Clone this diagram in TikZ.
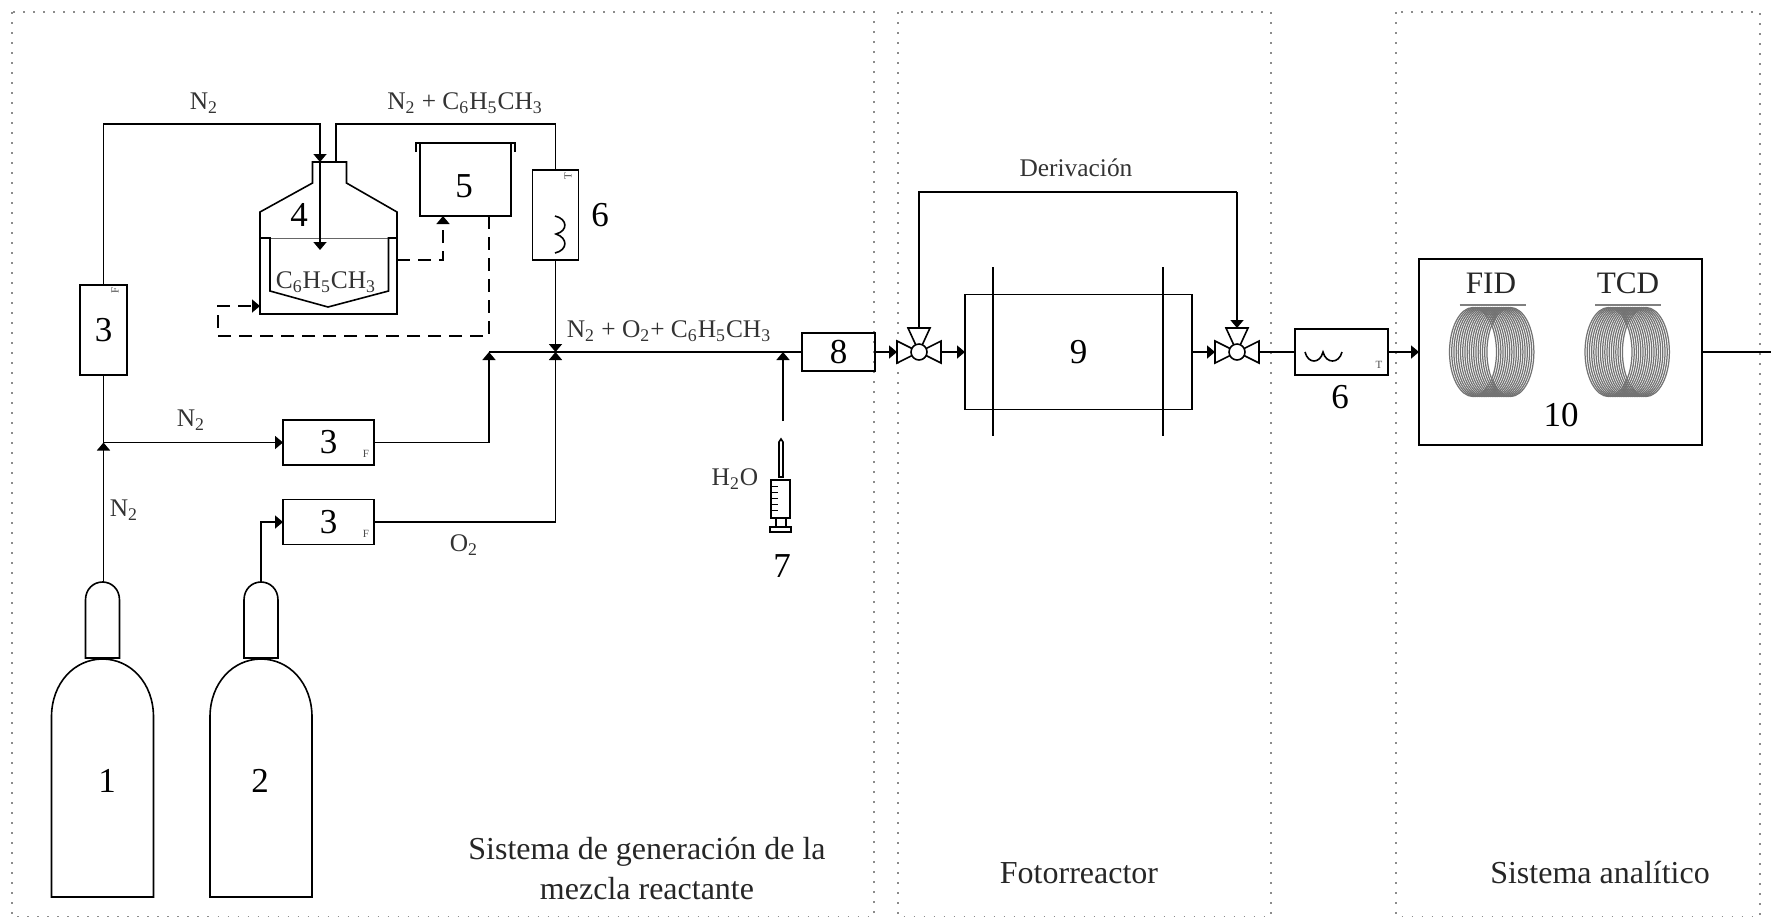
\documentclass[tikz,border=0pt]{standalone}
\usepackage{fontspec}
\setmainfont{Liberation Serif}
\usetikzlibrary{arrows.meta,positioning,calc}

\tikzset{
  pics/valve/.style={code={
    \draw[pipe, fill=white] (-22,-11) -- (0,0) -- (-22,11) -- cycle;
    \draw[pipe, fill=white] (22,-11) -- (0,0) -- (22,11) -- cycle;
    \draw[pipe, fill=white] (-11,-24) -- (0,0) -- (11,-24) -- cycle;
    \draw[pipe, fill=white] (0,0) circle [radius=8];
    \coordinate (-in) at (-22,0);
    \coordinate (-out) at (22,0);
    \coordinate (-top) at (0,-24);
  }},
  pics/coil/.style={code={
    \foreach \dx in {-19.5,-17.3,...,20} {
      \draw[black!55, line width=.62pt] (\dx,0) ellipse [x radius=23.5, y radius=44.5];
    }
    \draw[black!50, line width=1pt] (-33,-47) -- (33,-47);
  }}
}

\begin{document}
\begin{tikzpicture}[
  x=.5pt, y=-.5pt,
  font=\fontsize{12.7}{14}\selectfont,
  pipe/.style={line width=.8pt, black},
  box/.style={draw, pipe, inner sep=0pt, outer sep=0pt, font=\fontsize{17.5}{18}\selectfont},
  num/.style={inner sep=0pt, font=\fontsize{17.5}{18}\selectfont},
  lbl/.style={inner sep=0pt, text=black!80},
  zone/.style={inner sep=0pt, align=center, text=black!85, font=\fontsize{16}{20}\selectfont},
  det/.style={inner sep=0pt, text=black!85, font=\fontsize{15.6}{17}\selectfont},
  tiny/.style={inner sep=0pt, text=black!70, font=\fontsize{5.5}{6}\selectfont},
  arr/.style={pipe, -{Triangle[length=4pt, width=6.5pt]}},
  ctrl/.style={dash pattern=on 6.5pt off 4pt},
  frame/.style={black!45, line width=.8pt, dash pattern=on .8pt off 4.2pt}]
  \useasboundingbox (0,0) rectangle (1771,918);

  % zones
  \draw[frame] (12,12) rectangle (874,916.5);
  \draw[frame] (898,12) rectangle (1271,916.5);
  \draw[frame] (1396,12) rectangle (1760,916.5);
  \node[zone] (zoneA) at (647,869) {Sistema de generación de la\\mezcla reactante};
  \node[zone] (zoneB) at (1079,873) {Fotorreactor};
  \node[zone] (zoneC) at (1600,873) {Sistema analítico};

  % cylinders
  \foreach \cx/\cn/\nx in {102.5/1/107, 261/2/260} {
    \draw[pipe] (\cx-51,897) -- (\cx-51,717) .. controls (\cx-51,683) and (\cx-28,659) .. (\cx,659)
      .. controls (\cx+28,659) and (\cx+51,683) .. (\cx+51,717) -- (\cx+51,897) -- cycle;
    \draw[pipe, fill=white] (\cx-17,658) -- (\cx-17,600) .. controls (\cx-17,589) and (\cx-9,582) .. (\cx,582)
      .. controls (\cx+9,582) and (\cx+17,589) .. (\cx+17,600) -- (\cx+17,658) -- cycle;
    \node[num] (cyl\cn) at (\nx,781) {\cn};
    \coordinate (neck\cn) at (\cx,582);
  }

  % instruments
  \node[box, minimum width=23.5pt, minimum height=45pt] (mfcN) at (103.5,330) {3};
  \node[box, minimum width=45.5pt, minimum height=22.5pt] (mfcD) at (328.5,442.5) {3};
  \node[box, minimum width=45.5pt, minimum height=22.5pt] (mfcO) at (328.5,522) {3};
  \node[box, minimum width=23pt, minimum height=45pt] (tempA) at (555.5,215) {};
  \node[box, minimum width=45.5pt, minimum height=36.5pt] (bath) at (465.5,179.5) {};
  \node[box, minimum width=36.5pt, minimum height=19pt] (mixer) at (838.5,352) {8};
  \node[box, minimum width=113.5pt, minimum height=57.5pt] (reactor) at (1078.5,352) {9};
  \node[box, minimum width=46.5pt, minimum height=23pt] (tempB) at (1341.5,352) {};
  \node[box, minimum width=141.5pt, minimum height=93pt] (gc) at (1560.5,352) {};
  \draw[pipe] (993,267) -- (993,436);
  \draw[pipe] (1163,267) -- (1163,436);

  \node[num] (numBath) at (464,186) {5};
  \node[num] (numTemp) at (600,215) {6};
  \node[num] (numVessel) at (299,215) {4};
  \node[num] (numTempB) at (1340,397) {6};
  \node[num] (numSyr) at (782,566) {7};
  \node[num] (numGc) at (1561,415) {10};
  \node[tiny, rotate=90] (tagN) at (115,290) {F};
  \node[tiny] (tagD) at (366,454) {F};
  \node[tiny] (tagO) at (366,534) {F};
  \node[tiny, rotate=90] (tagA) at (568,176) {T};
  \node[tiny] (tagB) at (1379,365) {T};

  % bath lid and heating curves
  \draw[pipe] ([xshift=-2pt, yshift=-4.5pt]bath.north west) -- ([xshift=-2pt]bath.north west)
    -- ([xshift=2pt]bath.north east) -- ([xshift=2pt, yshift=-4.5pt]bath.north east);
  \draw[pipe] (555,216) .. controls (568,219) and (568,231) .. (556,234) .. controls (568,238) and (568,250) .. (555,253);
  \draw[pipe] (1305,352) .. controls (1308,364) and (1320,364) .. (1323,352) .. controls (1326,364) and (1339,364) .. (1342,352);

  % saturator
  \draw[pipe] (260,314) -- (260,212) -- (312.5,183) -- (312.5,162) -- (346.5,162) -- (346.5,183) -- (397,212) -- (397,314) -- cycle;
  \draw[black!60, line width=.4pt] (260,238) -- (397,238);
  \draw[pipe] (260,238) -- (270,238) -- (270,291) -- (328,307) -- (388.5,291) -- (388.5,238) -- (397,238);
  \node[lbl] (toluene) at (326,282) {C\textsubscript{6}H\textsubscript{5}CH\textsubscript{3}};
  \coordinate (mouth) at (320,162);
  \coordinate (dip) at (320,250);
  \coordinate (outlet) at (336,162);
  \coordinate (jacketOut) at (397,260);
  \coordinate (jacketIn) at (260,306);
  \coordinate (bathIn) at (443,216);
  \coordinate (bathOut) at (489,216);
  \coordinate (ret) at (218,336);
  \coordinate (topline) at (0,124);

  % syringe
  \draw[pipe, fill=white] (779,477) -- (779,442) -- (781,439) -- (783,442) -- (783,477) -- cycle;
  \draw[pipe] (771,480) rectangle (790,518);
  \draw[pipe] (776,518) -- (776,527) (786,518) -- (786,527);
  \draw[pipe, line width=1pt] (770,527) rectangle (791,532);
  \foreach \ty in {486,492,498,504,510} {
    \draw[pipe, line width=.5pt] (772,\ty) -- (778,\ty);
  }
  \coordinate (syringe) at (783,421);
  \node[lbl] (water) at (735,479) {H\textsubscript{2}O};

  % junctions
  \coordinate (jsplit) at (103.5,442.5);
  \coordinate (jair) at (489,352);
  \coordinate (jmix) at (555.5,352);
  \coordinate (jwater) at (783,352);
  \coordinate (bypass) at (0,192);
  \pic (valveA) at (919,352) {valve};
  \pic (valveB) at (1237,352) {valve};

  % detectors
  \pic at (1492.5,352) {coil};
  \pic at (1628,352) {coil};
  \node[det] (fid) at (1491,283) {FID};
  \node[det] (tcd) at (1628,283) {TCD};

  % flows
  \draw[arr] (neck1 -| jsplit) -- (jsplit);
  \draw[pipe] (jsplit) -- (mfcN.south);
  \draw[arr] (jsplit) -- (mfcD.west);
  \draw[arr] (neck2) |- (mfcO.west);
  \draw[arr] (mfcN.north) -- (mfcN.north |- topline) -| (mouth);
  \draw[arr] (mouth) -- (dip);
  \draw[pipe] (outlet) -- (outlet |- topline) -| (tempA.north);
  \draw[arr] (tempA.south) -- (jmix);
  \draw[arr] (mfcD.east) -| (jair);
  \draw[arr] (mfcO.east) -| (jmix);
  \draw[pipe] (jair) -- (mixer.west);
  \draw[arr] (syringe) -- (jwater);
  \draw[arr] (mixer.east) -- (valveA-in);
  \draw[arr] (valveA-out) -- (reactor.west);
  \draw[arr] (reactor.east) -- (valveB-in);
  \draw[pipe] (valveA-top) -- (valveA-top |- bypass) -- (valveB-top |- bypass);
  \draw[arr] (valveB-top |- bypass) -- (valveB-top);
  \draw[pipe] (valveB-out) -- (tempB.west);
  \draw[arr] (tempB.east) -- (gc.west);
  \draw[pipe] (gc.east) -- (1771,352);
  \draw[arr, ctrl] (jacketOut) -| (bathIn);
  \draw[arr, ctrl] (bathOut) |- (ret) |- (jacketIn);

  % labels
  \node[lbl] (nA) at (204,103) {N\textsubscript{2}};
  \node[lbl] (nB) at (465,103) {N\textsubscript{2} + C\textsubscript{6}H\textsubscript{5}CH\textsubscript{3}};
  \node[lbl] (nC) at (191,420) {N\textsubscript{2}};
  \node[lbl] (nD) at (124,510) {N\textsubscript{2}};
  \node[lbl] (oA) at (464,545) {O\textsubscript{2}};
  \node[lbl] (mix) at (669,331) {N\textsubscript{2} + O\textsubscript{2}+ C\textsubscript{6}H\textsubscript{5}CH\textsubscript{3}};
  \node[lbl] (der) at (1076,168) {Derivación};
\end{tikzpicture}
\end{document}
